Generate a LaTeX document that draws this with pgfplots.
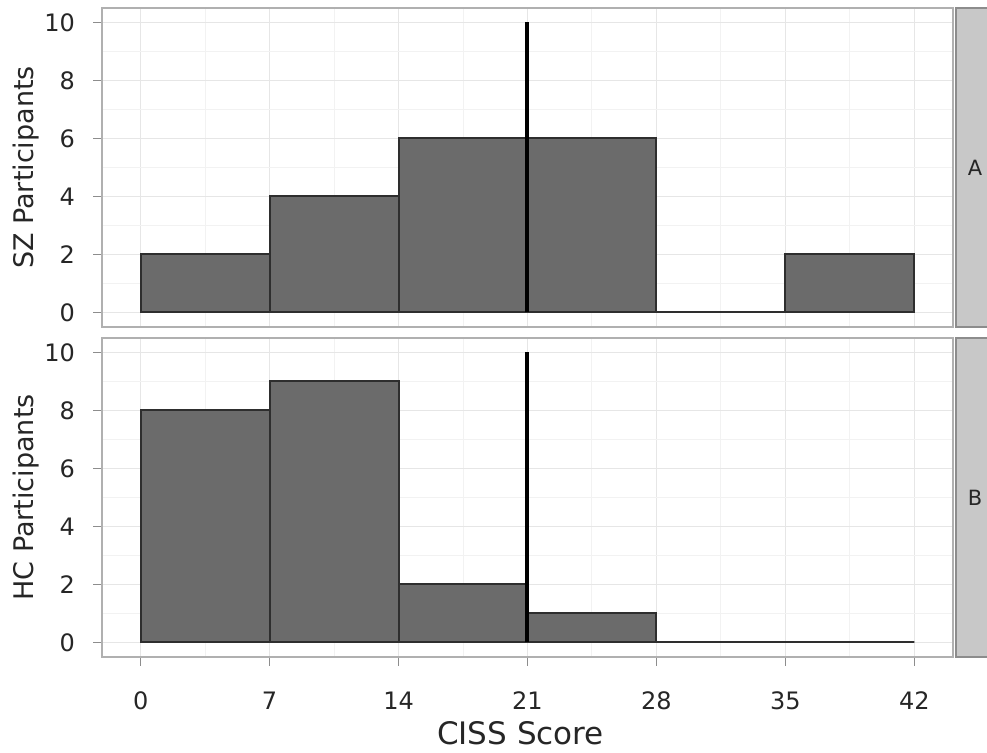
\documentclass[border=0pt]{standalone}
\usepackage{fontspec}
\setmainfont{DejaVu Sans}
\usepackage{pgfplots}
\pgfplotsset{compat=1.18}
\usetikzlibrary{calc}
\definecolor{barfill}{HTML}{6B6B6B}
\definecolor{baredge}{HTML}{2E2E2E}
\definecolor{gridc}{HTML}{E6E6E6}
\definecolor{gridminor}{HTML}{F2F2F2}
\definecolor{framec}{HTML}{B0B0B0}
\definecolor{stripfill}{HTML}{C8C8C8}
\definecolor{stripedge}{HTML}{8C8C8C}
\pgfplotsset{panel/.style={
  scale only axis, width=425.5pt, height=159.5pt,
  xmin=-2.1, xmax=44.1, ymin=-0.5, ymax=10.5,
  xtick={0,7,...,42}, ytick={0,2,...,10},
  minor xtick={3.5,10.5,...,38.5}, minor ytick={1,3,...,9},
  grid=both,
  major grid style={gridc, line width=0.6pt},
  minor grid style={gridminor, line width=0.5pt},
  axis line style={framec, line width=0.7pt},
  major tick style={framec!80!black, line width=0.7pt},
  minor tick length=0pt,
  tick align=outside, major tick length=4.5pt,
  xtick pos=bottom, ytick pos=left,
  /pgf/number format/assume math mode=true,
  tick label style={font=\fontsize{12}{14}\selectfont, color=black!85},
  yticklabel style={xshift=-5.5pt},
  xticklabel style={yshift=-9.5pt},
  label style={font=\fontsize{13.5}{16}\selectfont, color=black!85},
  ylabel style={yshift=-4pt},
}}
\begin{document}
\begin{tikzpicture}
\useasboundingbox (0,0) rectangle (493.5pt,-376.5pt);
\clip (0,0) rectangle (493.5pt,-376.5pt);

\begin{axis}[panel, name=p1, at={(51pt,-4pt)}, anchor=north west,
  xticklabels={}, xtick style={draw=none}, ylabel={SZ Participants}]
\addplot[ybar interval, fill=barfill, draw=baredge, line width=1pt]
  coordinates {(0,2) (7,4) (14,6) (21,6) (28,0) (35,2) (42,2)};
\addplot[black, line width=2pt] coordinates {(21,0) (21,10)};
\end{axis}

\begin{axis}[panel, name=p2, at={(51pt,-169pt)}, anchor=north west,
  ylabel={HC Participants}, xlabel={CISS Score},
  xlabel style={font=\fontsize{15.5}{18}\selectfont, xshift=-3.5pt, yshift=1pt}]
\addplot[ybar interval, fill=barfill, draw=baredge, line width=1pt]
  coordinates {(0,8) (7,9) (14,2) (21,1) (28,0) (35,0) (42,0)};
\addplot[black, line width=2pt] coordinates {(21,0) (21,10)};
\end{axis}

\foreach \p/\t in {p1/A, p2/B}{
  \draw[stripedge, fill=stripfill, line width=0.8pt]
    ([xshift=1.5pt]\p.south east) rectangle ([xshift=30pt]\p.north east);
  \node[font=\fontsize{10.5}{12}\selectfont, color=black!85] at ($(\p.south east)!0.5!(\p.north east)+(11pt,0)$) {\t};
}
\end{tikzpicture}
\end{document}
